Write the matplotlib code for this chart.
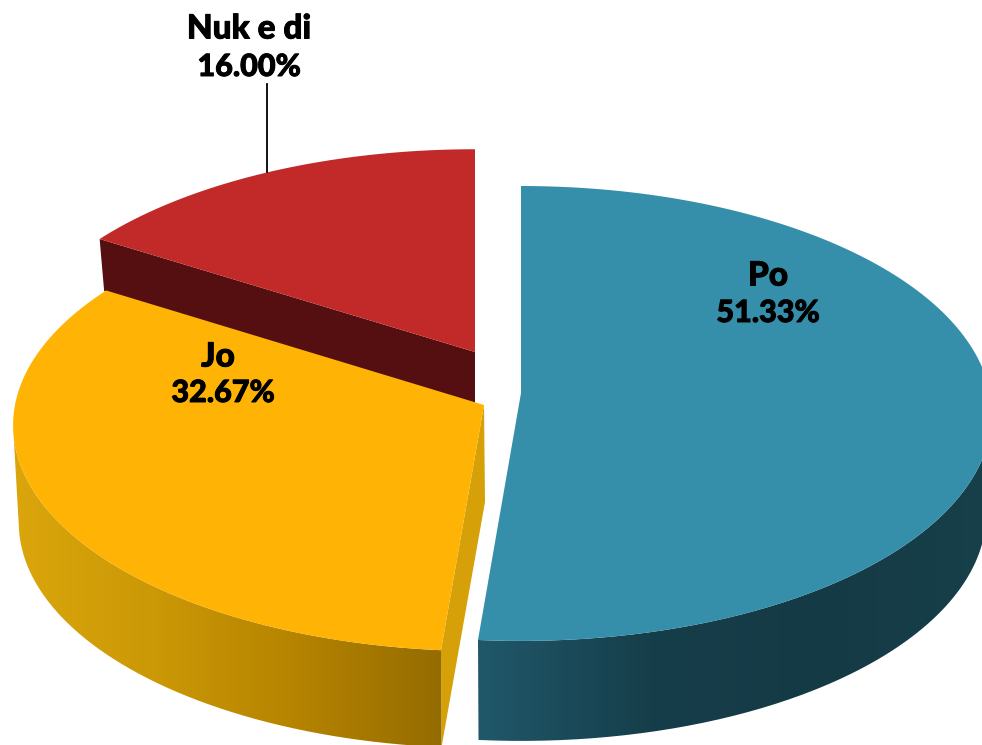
import numpy as np
import matplotlib
matplotlib.use('Agg')
import matplotlib.pyplot as plt
import matplotlib.patheffects as pe
from matplotlib.path import Path
from matplotlib.patches import PathPatch, Polygon
from matplotlib.colors import LinearSegmentedColormap

labels = ['Po', 'Jo', 'Nuk e di']
values = [51.33, 32.67, 16.00]

top_colors = ['#358FAA', '#FFB405', '#C22A2A']
cut_colors = ['#1F5563', '#D6A008', '#560F10']
rim_colors = [
    ['#20586A', '#163E4A', '#143A45', '#17404B'],
    ['#DBA60C', '#CB9806', '#B58300', '#946C00'],
    ['#560F10', '#560F10'],
]

# apex x, apex y, rx, ry, depth for each exploded slice
apex_x = [521, 484, 475]
apex_y = [393, 405, 352]
radius_x = [469, 469, 466]
radius_y = [225.6, 224, 221]
depth = [100, 97, 52]
persp = 0.09
shrink = 0.988

plt.rcParams['font.family'] = ['Lato', 'DejaVu Sans']
fig = plt.figure(figsize=(9.82, 7.45), dpi=100)
ax = fig.add_axes([0, 0, 1, 1])


def ring(i, a0, a1, n=300):
    t = np.radians(np.linspace(a0, a1, n))
    w = 1 + persp * np.cos(t)
    x = apex_x[i] + radius_x[i] * np.sin(t) / w
    y = apex_y[i] - radius_y[i] * np.cos(t) / w
    return x, y


def lower(i, x, y):
    return apex_x[i] + (x - apex_x[i]) * shrink, y + depth[i]


def fill_gradient(xy, colors, zorder):
    xy = np.array(xy)
    cmap = LinearSegmentedColormap.from_list('rim', colors)
    x0, x1 = xy[:, 0].min(), xy[:, 0].max()
    y0, y1 = xy[:, 1].min(), xy[:, 1].max()
    img = ax.imshow(np.linspace(0, 1, 256)[None, :], cmap=cmap, aspect='auto',
                    extent=(x0, x1, y1, y0), zorder=zorder, interpolation='bilinear')
    patch = PathPatch(Path(np.vstack([xy, xy[:1]])), transform=ax.transData,
                      fc='none', ec='none')
    ax.add_patch(patch)
    img.set_clip_path(patch)


# red first, blue last, so the nearer slices sit on top
starts = np.cumsum([0] + values[:-1]) * 3.6
ends = np.cumsum(values) * 3.6
for i in [2, 1, 0]:
    x, y = ring(i, starts[i], ends[i])
    bx, by = lower(i, x, y)
    pt = (apex_x[i], apex_y[i])
    pt_low = (apex_x[i], apex_y[i] + depth[i])

    # cut face that shows
    if i == 1:
        ax.add_patch(Polygon([pt, (pt[0] + 1, pt_low[1]), (bx[0], by[0]), (x[0], y[0])],
                             fc=cut_colors[i], ec='none', zorder=i + 1))
    if i == 2:
        ax.add_patch(Polygon([pt, pt_low, (bx[0], by[0]), (x[0], y[0])],
                             fc=cut_colors[i], ec='none', zorder=i + 1))

    # outer rim, only the part facing the viewer so the silhouette stays straight
    if i == 0:
        k = np.argmax(x)
        rim = np.vstack([np.column_stack([x[k:], y[k:]]),
                         np.column_stack([bx[k:], by[k:]])[::-1]])
        fill_gradient(rim, rim_colors[i], 10 - i * 2)
    if i == 1:
        k = np.argmin(x)
        rim = np.vstack([np.column_stack([x[:k], y[:k]]),
                         np.column_stack([bx[:k], by[:k]])[::-1]])
        fill_gradient(rim, rim_colors[i], 10 - i * 2)

    # top face
    pts = [pt] + list(zip(x, y))
    ax.add_patch(Polygon(pts, fc=top_colors[i], ec='none', zorder=11 - i * 2))

name_pos = [(768, 276), (218, 357), (249, 29)]
pct_pos = [(768, 313), (223, 393), (249, 67)]
heavy = [pe.withStroke(linewidth=0.7, foreground='black')]
for lab, val, np_, pp in zip(labels, values, name_pos, pct_pos):
    ax.text(np_[0], np_[1], lab, ha='center', va='center', fontsize=24,
            fontweight='black', color='black', zorder=20, path_effects=heavy)
    ax.text(pp[0], pp[1], f'{val:.2f}%', ha='center', va='center', fontsize=22,
            fontweight='black', color='black', zorder=20, path_effects=heavy)

ax.plot([267, 267], [84, 172], color='black', lw=1.3, zorder=20)

ax.set_xlim(0, 982)
ax.set_ylim(745, 0)
ax.axis('off')

fig.savefig('out.png', dpi=100)
